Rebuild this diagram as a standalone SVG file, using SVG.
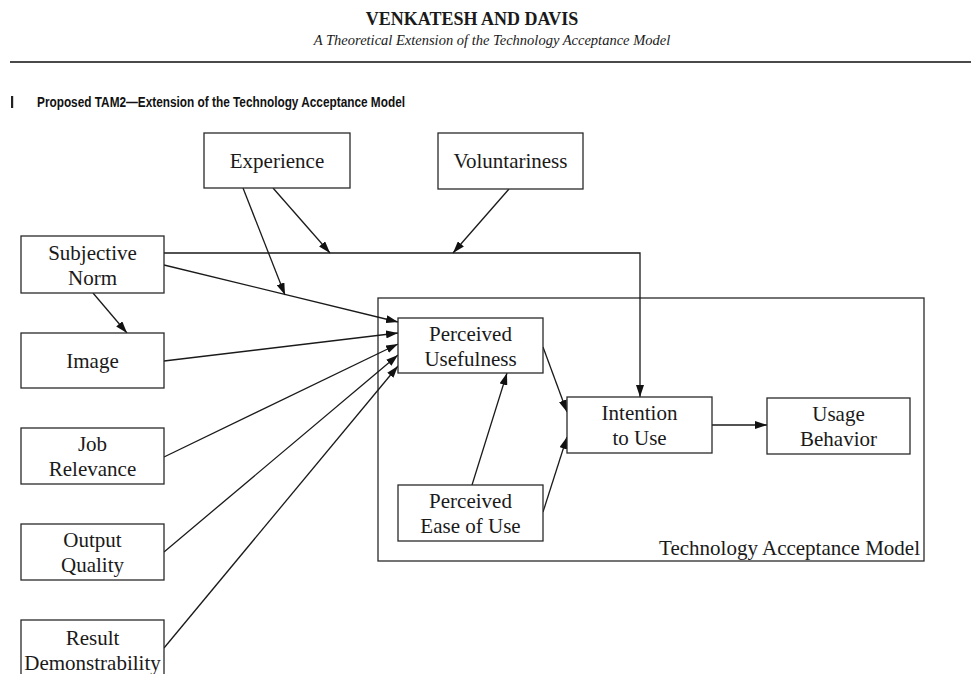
<svg xmlns="http://www.w3.org/2000/svg" width="971" height="674" viewBox="0 0 971 674">
  <style>
    .box { fill: #ffffff; stroke: #2a2a2a; stroke-width: 1.3; }
    .frame { fill: none; stroke: #2a2a2a; stroke-width: 1.3; }
    .lbl { font-family: "Liberation Serif", "Times New Roman", serif; font-size: 21px; fill: #1a1a1a; text-anchor: middle; }
    .edge { fill: none; stroke: #1a1a1a; stroke-width: 1.3; }
    .arr { marker-end: url(#head); }
  </style>
  <defs>
    <marker id="head" markerUnits="userSpaceOnUse" viewBox="0 0 12 8" refX="12" refY="4" markerWidth="12" markerHeight="8" orient="auto">
      <path d="M0,0 L12,4 L0,8 Z" fill="#111111"/>
    </marker>
  </defs>

  <rect width="971" height="674" fill="#ffffff"/>

  <!-- running header -->
  <g id="header">
    <text x="472" y="25" font-family="Liberation Serif, Times New Roman, serif" font-size="18" font-weight="bold" text-anchor="middle" fill="#1a1a1a">VENKATESH AND DAVIS</text>
    <text x="492" y="45" font-family="Liberation Serif, Times New Roman, serif" font-size="14.5" font-style="italic" text-anchor="middle" fill="#1a1a1a">A Theoretical Extension of the Technology Acceptance Model</text>
    <line x1="10" y1="62" x2="971" y2="62" stroke="#4a4a4a" stroke-width="2"/>
    <rect x="11" y="96" width="2.2" height="12" fill="#222222"/>
    <text x="37" y="107" font-family="Liberation Sans, Arial, sans-serif" font-size="14" font-weight="bold" fill="#111111" textLength="368" lengthAdjust="spacingAndGlyphs">Proposed TAM2—Extension of the Technology Acceptance Model</text>
  </g>

  <!-- TAM core frame -->
  <g id="tam-frame">
    <rect class="frame" x="378" y="298" width="546" height="263"/>
    <text class="lbl" x="920" y="555" style="text-anchor:end">Technology Acceptance Model</text>
  </g>

  <!-- connectors -->
  <g id="connectors">
    <path class="edge arr" d="M164,253 H640 V397"/>
    <line class="edge arr" x1="243" y1="188" x2="285" y2="295"/>
    <line class="edge arr" x1="273" y1="188" x2="330" y2="253"/>
    <line class="edge arr" x1="509" y1="189" x2="453" y2="253"/>
    <line class="edge arr" x1="93" y1="293" x2="127" y2="333"/>
    <line class="edge arr" x1="164" y1="265" x2="398" y2="322"/>
    <line class="edge arr" x1="164" y1="361" x2="398" y2="333"/>
    <line class="edge arr" x1="164" y1="457" x2="398" y2="344"/>
    <line class="edge arr" x1="164" y1="552" x2="398" y2="355"/>
    <line class="edge arr" x1="164" y1="648" x2="398" y2="366"/>
    <line class="edge arr" x1="472" y1="485" x2="507" y2="373"/>
    <line class="edge arr" x1="543" y1="347" x2="567" y2="412"/>
    <line class="edge arr" x1="543" y1="512" x2="567" y2="437"/>
    <line class="edge arr" x1="712" y1="425" x2="767" y2="425"/>
  </g>

  <!-- nodes -->
  <g id="experience">
    <rect class="box" x="204" y="133" width="146" height="55"/>
    <text class="lbl" x="277" y="168">Experience</text>
  </g>
  <g id="voluntariness">
    <rect class="box" x="438" y="133" width="145" height="56"/>
    <text class="lbl" x="510.5" y="168">Voluntariness</text>
  </g>
  <g id="subjective-norm">
    <rect class="box" x="21" y="236" width="143" height="57"/>
    <text class="lbl" x="92.5" y="260">Subjective</text>
    <text class="lbl" x="92.5" y="285">Norm</text>
  </g>
  <g id="image">
    <rect class="box" x="21" y="333" width="143" height="55"/>
    <text class="lbl" x="92.5" y="368">Image</text>
  </g>
  <g id="job-relevance">
    <rect class="box" x="21" y="428" width="143" height="56"/>
    <text class="lbl" x="92.5" y="451">Job</text>
    <text class="lbl" x="92.5" y="476">Relevance</text>
  </g>
  <g id="output-quality">
    <rect class="box" x="21" y="524" width="143" height="56"/>
    <text class="lbl" x="92.5" y="547">Output</text>
    <text class="lbl" x="92.5" y="572">Quality</text>
  </g>
  <g id="result-demonstrability">
    <rect class="box" x="21" y="620" width="143" height="57"/>
    <text class="lbl" x="92.5" y="645">Result</text>
    <text class="lbl" x="92.5" y="670">Demonstrability</text>
  </g>
  <g id="perceived-usefulness">
    <rect class="box" x="398" y="318" width="145" height="55"/>
    <text class="lbl" x="470.5" y="341">Perceived</text>
    <text class="lbl" x="470.5" y="366">Usefulness</text>
  </g>
  <g id="perceived-ease-of-use">
    <rect class="box" x="398" y="485" width="145" height="56"/>
    <text class="lbl" x="470.5" y="508">Perceived</text>
    <text class="lbl" x="470.5" y="533">Ease of Use</text>
  </g>
  <g id="intention-to-use">
    <rect class="box" x="567" y="397" width="145" height="56"/>
    <text class="lbl" x="639.5" y="420">Intention</text>
    <text class="lbl" x="639.5" y="445">to Use</text>
  </g>
  <g id="usage-behavior">
    <rect class="box" x="767" y="398" width="143" height="56"/>
    <text class="lbl" x="838.5" y="421">Usage</text>
    <text class="lbl" x="838.5" y="446">Behavior</text>
  </g>
</svg>
